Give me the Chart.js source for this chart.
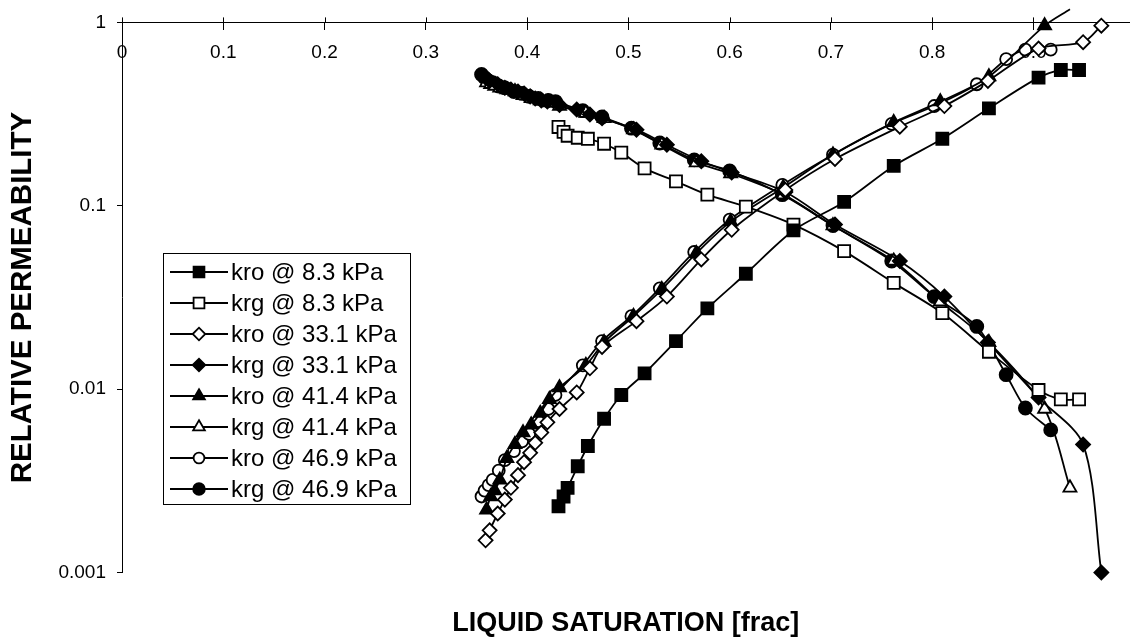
<!DOCTYPE html>
<html>
<head>
<meta charset="utf-8">
<script src="https://cdn.jsdelivr.net/npm/chart.js@4.4.1/dist/chart.umd.min.js"></script>
<style>
  html, body { margin: 0; padding: 0; background: #fff; }
</style>
</head>
<body>
<canvas id="chart" width="1140" height="640"></canvas>
<script>
// liquid saturation [frac] and relative permeabilities, one set per pressure
const sat83 = [0.431, 0.436, 0.440, 0.450, 0.460, 0.476, 0.493, 0.516, 0.547, 0.578, 0.616, 0.663, 0.713, 0.762, 0.810, 0.856, 0.905, 0.927, 0.945];
const kro83 = [0.0023, 0.0026, 0.0029, 0.0038, 0.0049, 0.0069, 0.0093, 0.0122, 0.0183, 0.0276, 0.0426, 0.0734, 0.105, 0.165, 0.232, 0.34, 0.50, 0.55, 0.55];
const krg83 = [0.269, 0.253, 0.241, 0.235, 0.232, 0.218, 0.195, 0.16, 0.136, 0.115, 0.099, 0.079, 0.0566, 0.038, 0.026, 0.016, 0.0099, 0.0088, 0.0088];

const sat331 = [0.359, 0.363, 0.371, 0.378, 0.384, 0.391, 0.397, 0.403, 0.408, 0.414, 0.420, 0.432, 0.449, 0.462, 0.474, 0.508, 0.538, 0.572, 0.602, 0.655, 0.704, 0.768, 0.812, 0.855, 0.905, 0.949, 0.967];
const kro331 = [0.0015, 0.0017, 0.0021, 0.0025, 0.0029, 0.0034, 0.004, 0.0045, 0.0051, 0.0058, 0.0066, 0.0078, 0.0096, 0.013, 0.017, 0.0235, 0.032, 0.051, 0.074, 0.122, 0.18, 0.27, 0.35, 0.48, 0.72, 0.78, 0.96];
const krg331 = [0.5, 0.48, 0.46, 0.44, 0.43, 0.42, 0.41, 0.395, 0.385, 0.375, 0.37, 0.355, 0.335, 0.315, 0.3, 0.26, 0.215, 0.175, 0.152, 0.119, 0.079, 0.05, 0.032, 0.018, 0.009, 0.005, 0.001];

const sat414 = [0.360, 0.364, 0.368, 0.373, 0.380, 0.388, 0.396, 0.404, 0.413, 0.422, 0.432, 0.458, 0.476, 0.505, 0.533, 0.567, 0.601, 0.653, 0.702, 0.762, 0.808, 0.856, 0.911, 0.936];
const kro414 = [0.0022, 0.0026, 0.0028, 0.0032, 0.0042, 0.005, 0.0058, 0.0064, 0.0074, 0.0088, 0.0102, 0.0135, 0.018, 0.025, 0.035, 0.055, 0.082, 0.126, 0.19, 0.285, 0.37, 0.506, 0.96, 1.18];
const krg414 = [0.47, 0.46, 0.45, 0.44, 0.43, 0.42, 0.40, 0.385, 0.375, 0.365, 0.35, 0.32, 0.3, 0.26, 0.215, 0.172, 0.15, 0.115, 0.078, 0.05, 0.03, 0.018, 0.0078, 0.0029];

const sat469 = [0.355, 0.358, 0.362, 0.366, 0.372, 0.378, 0.387, 0.395, 0.402, 0.411, 0.421, 0.428, 0.455, 0.474, 0.503, 0.531, 0.565, 0.600, 0.652, 0.702, 0.760, 0.802, 0.844, 0.873, 0.892, 0.917];
const kro469 = [0.0026, 0.0028, 0.003, 0.0032, 0.0036, 0.0041, 0.0046, 0.0052, 0.0057, 0.0067, 0.0078, 0.0093, 0.0135, 0.0183, 0.025, 0.0355, 0.056, 0.084, 0.13, 0.19, 0.28, 0.35, 0.46, 0.63, 0.71, 0.71];
const krg469 = [0.52, 0.5, 0.48, 0.47, 0.45, 0.44, 0.42, 0.41, 0.395, 0.385, 0.375, 0.37, 0.33, 0.305, 0.265, 0.22, 0.178, 0.155, 0.115, 0.078, 0.05, 0.032, 0.022, 0.012, 0.0079, 0.006];

const xTickValues = [0, 0.1, 0.2, 0.3, 0.4, 0.5, 0.6, 0.7, 0.8, 0.9];
const yTickValues = [0.001, 0.01, 0.1, 1];

const FONT = '"Liberation Sans", Arial, sans-serif';
Chart.defaults.font.family = FONT;
Chart.defaults.color = '#000';

function pts(xs, ys) {
  return xs.map((x, i) => ({ x: x, y: ys[i] }));
}

function series(label, xs, ys, style, filled, radius) {
  return {
    label: label,
    data: pts(xs, ys),
    borderColor: '#000',
    backgroundColor: filled ? '#000' : '#fff',
    borderWidth: 1.8,
    pointStyle: style,
    pointRadius: radius,
    pointBackgroundColor: filled ? '#000' : '#fff',
    pointBorderColor: '#000',
    pointBorderWidth: 1.8,
    tension: 0.3,
    clip: false
  };
}

// legend box sitting inside the plot, drawn like the excel one
const boxLegend = {
  id: 'boxLegend',
  afterDraw(chart) {
    const ctx = chart.ctx;
    const left = 163, top = 253, w = 247, h = 251, rowH = 31;
    ctx.save();
    ctx.fillStyle = '#fff';
    ctx.fillRect(left, top, w, h);
    ctx.strokeStyle = '#000';
    ctx.lineWidth = 1;
    ctx.strokeRect(left + 0.5, top + 0.5, w, h);
    chart.data.datasets.forEach((ds, i) => {
      const y = top + 19 + i * rowH;
      ctx.beginPath();
      ctx.moveTo(170, y);
      ctx.lineTo(228, y);
      ctx.lineWidth = 1.8;
      ctx.strokeStyle = '#000';
      ctx.stroke();
      ctx.fillStyle = ds.pointBackgroundColor;
      Chart.helpers.drawPoint(ctx, {
        pointStyle: ds.pointStyle, rotation: 0,
        radius: ds.pointRadius * 0.9, borderWidth: 1.8
      }, 199, y);
      ctx.fillStyle = '#000';
      ctx.font = '24px ' + FONT;
      ctx.textAlign = 'left';
      ctx.textBaseline = 'middle';
      ctx.fillText(ds.label, 231, y + 1);
    });
    ctx.restore();
  }
};

// excel "cross" tick marks: the part above the top axis
const crossTicks = {
  id: 'crossTicks',
  afterDraw(chart) {
    const ctx = chart.ctx;
    const xs = chart.scales.x;
    const y0 = chart.scales.y.getPixelForValue(1);
    ctx.save();
    ctx.strokeStyle = '#000';
    ctx.lineWidth = 1;
    xTickValues.forEach(v => {
      const px = Math.round(xs.getPixelForValue(v)) + 0.5;
      ctx.beginPath();
      ctx.moveTo(px, y0 - 5);
      ctx.lineTo(px, y0);
      ctx.stroke();
    });
    ctx.restore();
  }
};

new Chart(document.getElementById('chart').getContext('2d'), {
  type: 'line',
  data: {
    datasets: [
      series('kro @ 8.3 kPa', sat83, kro83, 'rect', true, 8.5),
      series('krg @ 8.3 kPa', sat83, krg83, 'rect', false, 8.5),
      series('kro @ 33.1 kPa', sat331, kro331, 'rectRot', false, 7),
      series('krg @ 33.1 kPa', sat331, krg331, 'rectRot', true, 7),
      series('kro @ 41.4 kPa', sat414, kro414, 'triangle', true, 7.5),
      series('krg @ 41.4 kPa', sat414, krg414, 'triangle', false, 7.5),
      series('kro @ 46.9 kPa', sat469, kro469, 'circle', false, 6),
      series('krg @ 46.9 kPa', sat469, krg469, 'circle', true, 6.5)
    ]
  },
  options: {
    responsive: false,
    animation: false,
    layout: { padding: { top: 15, left: 0, right: 0, bottom: 0 } },
    elements: { line: { capBezierPoints: false } },
    plugins: {
      legend: { display: false },
      tooltip: { enabled: false },
      title: {
        display: true,
        position: 'bottom',
        fullSize: false,
        text: 'LIQUID SATURATION [frac]',
        color: '#000',
        font: { size: 27, weight: 'bold' },
        padding: { top: 35, bottom: 0 }
      }
    },
    scales: {
      x: {
        type: 'linear',
        position: { y: 1 },
        min: 0,
        max: 0.995,
        afterBuildTicks(scale) {
          scale.ticks = xTickValues.map(v => ({ value: v }));
        },
        ticks: {
          font: { size: 19 },
          color: '#000',
          padding: 12,
          maxRotation: 0,
          callback: v => String(Math.round(v * 10) / 10)
        },
        grid: { drawOnChartArea: false, tickLength: 7, tickColor: '#000' },
        border: { color: '#000', width: 1 }
      },
      y: {
        type: 'logarithmic',
        position: 'left',
        min: 0.001,
        max: 1,
        afterBuildTicks(scale) {
          scale.ticks = yTickValues.map(v => ({ value: v }));
        },
        afterFit(scale) {
          scale.width = 122;
        },
        ticks: {
          font: { size: 19 },
          color: '#000',
          padding: 11,
          callback: v => String(v)
        },
        grid: { drawOnChartArea: false, tickLength: 5, tickColor: '#000' },
        border: { color: '#000', width: 1 },
        title: {
          display: true,
          text: 'RELATIVE PERMEABILITY',
          color: '#000',
          font: { size: 29.5, weight: 'bold' },
          padding: { top: 5, bottom: 0 }
        }
      }
    }
  },
  plugins: [boxLegend, crossTicks]
});
</script>
</body>
</html>
